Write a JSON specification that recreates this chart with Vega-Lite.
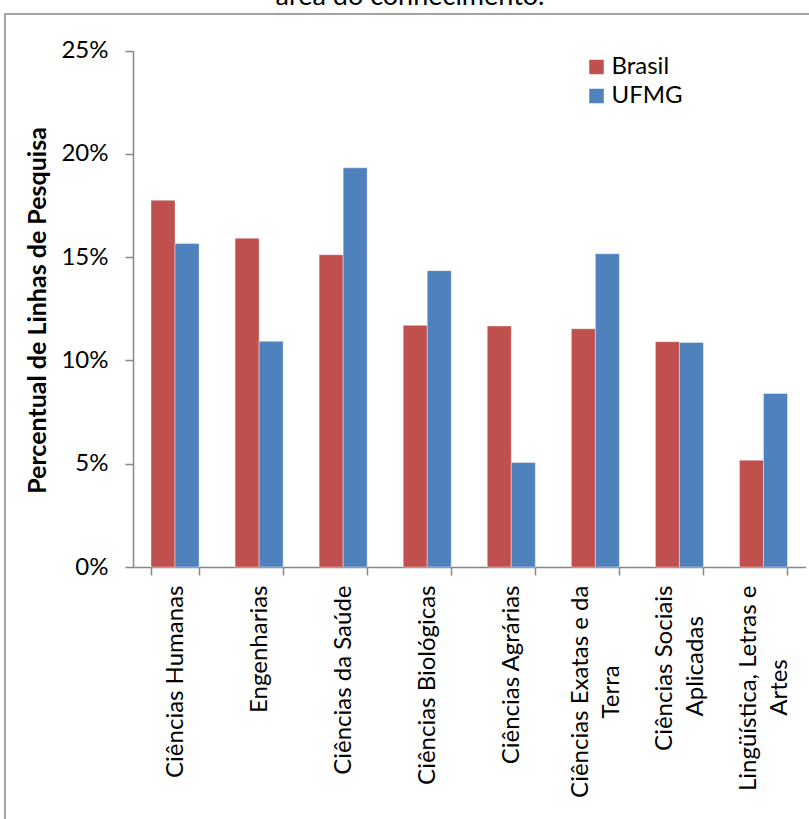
{
  "$schema": "https://vega.github.io/schema/vega-lite/v6.json",
  "autosize": "none",
  "padding": {"left": 5, "top": 14, "right": 0, "bottom": 0},
  "width": 820,
  "height": 820,
  "background": "white",
  "title": {"text": "área do conhecimento.", "frame": "group", "anchor": "middle", "dx": -5, "dy": 18, "offset": 0, "baseline": "alphabetic", "font": "Lato", "fontSize": 27, "fontWeight": "normal", "color": "black"},
  "data": {"values": [
    {"area": "Ciências Humanas", "serie": "Brasil", "pct": 0.1776},
    {"area": "Ciências Humanas", "serie": "UFMG", "pct": 0.1567},
    {"area": "Engenharias", "serie": "Brasil", "pct": 0.1592},
    {"area": "Engenharias", "serie": "UFMG", "pct": 0.1093},
    {"area": "Ciências da Saúde", "serie": "Brasil", "pct": 0.1512},
    {"area": "Ciências da Saúde", "serie": "UFMG", "pct": 0.1933},
    {"area": "Ciências Biológicas", "serie": "Brasil", "pct": 0.1170},
    {"area": "Ciências Biológicas", "serie": "UFMG", "pct": 0.1435},
    {"area": "Ciências Agrárias", "serie": "Brasil", "pct": 0.1167},
    {"area": "Ciências Agrárias", "serie": "UFMG", "pct": 0.0506},
    {"area": "Ciências Exatas e da Terra", "serie": "Brasil", "pct": 0.1154},
    {"area": "Ciências Exatas e da Terra", "serie": "UFMG", "pct": 0.1517},
    {"area": "Ciências Sociais Aplicadas", "serie": "Brasil", "pct": 0.1091},
    {"area": "Ciências Sociais Aplicadas", "serie": "UFMG", "pct": 0.1087},
    {"area": "Lingüística, Letras e Artes", "serie": "Brasil", "pct": 0.0517},
    {"area": "Lingüística, Letras e Artes", "serie": "UFMG", "pct": 0.0840}
  ]},
  "mark": {"type": "bar", "stroke": "white", "strokeOpacity": 0.4, "strokeWidth": 1},
  "encoding": {
    "x": {
      "field": "area", "type": "nominal", "sort": null,
      "scale": {"range": [128, 800.5], "paddingInner": 0.4286, "paddingOuter": 0.2143},
      "axis": {
        "title": null, "orient": "bottom", "offset": -267,
        "labelAngle": -90, "labelAlign": "right", "labelBaseline": "middle",
        "labelFont": "Lato", "labelFontSize": 24, "labelColor": "black",
        "labelPadding": 10, "labelLimit": 400, "labelLineHeight": 31,
        "labelOffset": {"condition": {"test": "indexof(['Ciências Exatas e da Terra', 'Ciências Sociais Aplicadas', 'Lingüística, Letras e Artes'], datum.value) >= 0", "value": -15}, "value": 0},
        "tickSize": 8, "tickColor": "#878787", "tickWidth": 1.5, "tickBand": "extent",
        "domainColor": "#878787", "domainWidth": 1.5, "grid": false,
        "labelExpr": "datum.value == 'Ciências Exatas e da Terra' ? ['Ciências Exatas e da', 'Terra\u00a0\u00a0\u00a0\u00a0\u00a0\u00a0\u00a0\u00a0\u00a0\u00a0\u00a0\u00a0\u00a0\u200b'] : datum.value == 'Ciências Sociais Aplicadas' ? ['Ciências Sociais', 'Aplicadas\u00a0\u00a0\u00a0\u00a0\u00a0\u200b'] : datum.value == 'Lingüística, Letras e Artes' ? ['Lingüística, Letras e', 'Artes\u00a0\u00a0\u00a0\u00a0\u00a0\u00a0\u00a0\u00a0\u00a0\u00a0\u00a0\u00a0\u200b'] : datum.value"
      }
    },
    "xOffset": {"field": "serie", "type": "nominal", "sort": ["Brasil", "UFMG"]},
    "y": {
      "field": "pct", "type": "quantitative",
      "scale": {"domain": [0, 0.25], "range": [553, 36.7], "nice": false, "zero": true},
      "axis": {
        "title": "Percentual de Linhas de Pesquisa", "offset": -128,
        "values": [0, 0.05, 0.1, 0.15, 0.2, 0.25], "format": ".0%",
        "labelFont": "Lato", "labelFontSize": 24, "labelColor": "black", "labelPadding": 17,
        "tickSize": 8, "tickColor": "#878787", "tickWidth": 1.5,
        "domainColor": "#878787", "domainWidth": 1.5, "grid": false,
        "titleFont": "Lato", "titleFontSize": 25, "titleFontWeight": "bold", "titleColor": "black",
        "titleX": -88, "titleY": 296, "titleAngle": -90, "titleAlign": "center", "titleBaseline": "alphabetic"
      }
    },
    "color": {
      "field": "serie", "type": "nominal",
      "scale": {"domain": ["Brasil", "UFMG"], "range": ["#C0504D", "#4F81BD"]},
      "legend": {
        "title": null, "orient": "none", "legendX": 579.5, "legendY": 41,
        "symbolType": "square", "symbolSize": 210, "symbolStrokeWidth": 0, "symbolOpacity": 1,
        "labelFont": "Lato", "labelFontSize": 24, "labelColor": "black",
        "labelOffset": 3, "rowPadding": 5, "padding": 0
      }
    }
  },
  "config": {"view": {"stroke": "#878787", "strokeWidth": 1.5}, "font": "Lato"}
}
